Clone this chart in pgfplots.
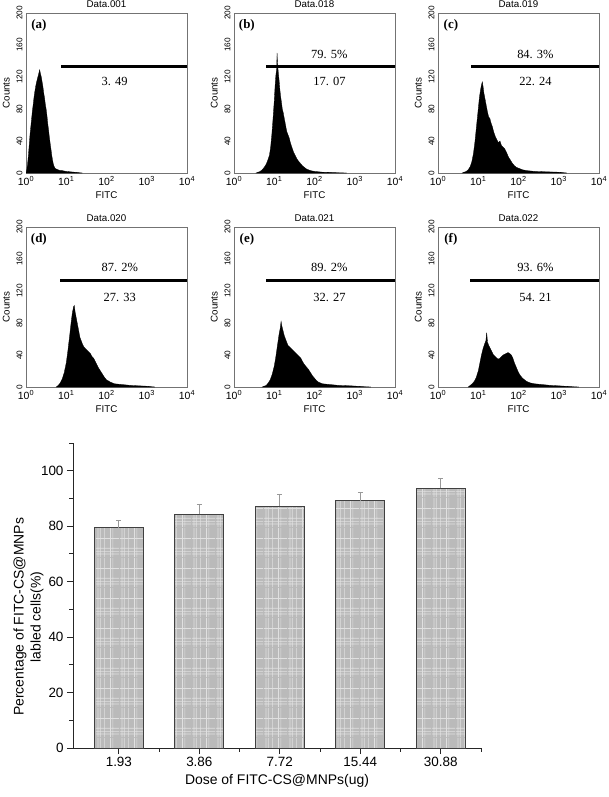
\documentclass[border=0pt]{standalone}
\usepackage{pgfplots}
\pgfplotsset{compat=1.18}
\usetikzlibrary{patterns}
\usepackage{fontspec}
\setmainfont{Liberation Sans}
\newfontfamily\tnr{Liberation Serif}

\pgfdeclarepatternformonly{plaid}{\pgfpoint{0bp}{0bp}}{\pgfpoint{24bp}{30bp}}{\pgfpoint{24bp}{30bp}}{
  \pgfsetlinewidth{0.7bp}
  \pgfpathmoveto{\pgfpoint{2bp}{0bp}}\pgfpathlineto{\pgfpoint{2bp}{30bp}}
  \pgfpathmoveto{\pgfpoint{4.5bp}{0bp}}\pgfpathlineto{\pgfpoint{4.5bp}{30bp}}
  \pgfpathmoveto{\pgfpoint{9bp}{0bp}}\pgfpathlineto{\pgfpoint{9bp}{30bp}}
  \pgfpathmoveto{\pgfpoint{15bp}{0bp}}\pgfpathlineto{\pgfpoint{15bp}{30bp}}
  \pgfpathmoveto{\pgfpoint{17.5bp}{0bp}}\pgfpathlineto{\pgfpoint{17.5bp}{30bp}}
  \pgfpathmoveto{\pgfpoint{0bp}{3bp}}\pgfpathlineto{\pgfpoint{24bp}{3bp}}
  \pgfpathmoveto{\pgfpoint{0bp}{5.5bp}}\pgfpathlineto{\pgfpoint{24bp}{5.5bp}}
  \pgfpathmoveto{\pgfpoint{0bp}{9bp}}\pgfpathlineto{\pgfpoint{24bp}{9bp}}
  \pgfpathmoveto{\pgfpoint{0bp}{19bp}}\pgfpathlineto{\pgfpoint{24bp}{19bp}}
  \pgfusepath{stroke}
}

\pgfplotsset{
  hist/.style={
    scale only axis, width=161bp, height=160bp,
    xmin=0, xmax=4, ymin=0, ymax=200,
    xtick={0,1,2,3,4},
    xticklabels={10\textsuperscript{0},10\textsuperscript{1},10\textsuperscript{2},10\textsuperscript{3},10\textsuperscript{4}},
    ytick={0,40,80,120,160,200},
    yticklabel style={rotate=90, anchor=south, font=\fontsize{8.3}{9}\selectfont},
    xticklabel style={font=\fontsize{10.5}{11}\selectfont},
    major tick length=0pt,
    axis line style={black!55, line width=0.6bp},
    title style={font=\fontsize{9.8}{11}\selectfont, at={(0.5,1)}, anchor=south, yshift=-4.5bp},
    xlabel={FITC}, ylabel={Counts},
    label style={font=\fontsize{9.8}{11}\selectfont},
    xlabel style={yshift=1bp},
    /pgf/number format/assume math mode=true,
  },
  histfill/.style={fill=black, draw=black, line width=0.3bp},
  gate/.style={line width=3.3bp, black},
}

\newcommand{\plab}[1]{\node[font=\tnr\bfseries\fontsize{13}{14}\selectfont] at (rel axis cs:0.08,0.925) {#1};}
\newcommand{\numtxt}[3]{\node[font=\tnr\fontsize{12.5}{14}\selectfont] at (axis cs:#1,#2) {#3};}

\begin{document}
\begin{tikzpicture}
\useasboundingbox (0,0) rectangle (609bp,-797bp);

% (a)
\begin{axis}[hist, at={(26bp,-13bp)}, anchor=north west, title={Data.001}]
\addplot[histfill] coordinates {
(0.00,0) (0.02,4) (0.04,12) (0.06,22) (0.08,35) (0.10,48) (0.12,58) (0.14,68) (0.16,78) (0.18,86)
(0.20,95) (0.22,102) (0.24,108) (0.26,113) (0.28,117) (0.30,121) (0.32,125) (0.34,129) (0.36,124)
(0.38,120) (0.40,114) (0.42,108) (0.44,100) (0.46,94) (0.48,86) (0.50,80) (0.52,72) (0.54,62)
(0.56,54) (0.58,45) (0.60,37) (0.62,30) (0.64,22) (0.66,16) (0.68,11) (0.70,8) (0.72,6) (0.75,5)
(0.80,4) (0.85,3) (0.90,3) (1.00,2) (1.10,1.5) (1.20,1) (1.30,0.5) (1.40,0)} \closedcycle;
\addplot[gate] coordinates {(0.88,133) (4,133)};
\plab{(a)}
\numtxt{2.2}{114}{3. 49}
\end{axis}

% (b)
\begin{axis}[hist, at={(234bp,-13bp)}, anchor=north west, title={Data.018}]
\addplot[histfill] coordinates {
(0.55,0) (0.60,1) (0.65,2) (0.70,4) (0.75,7) (0.80,11) (0.84,16) (0.88,22) (0.91,32) (0.94,48)
(0.97,68) (1.00,90) (1.02,108) (1.04,122) (1.06,130) (1.07,150) (1.08,138) (1.10,126) (1.12,116)
(1.14,104) (1.16,95) (1.18,88) (1.20,80) (1.22,76) (1.25,68) (1.28,60) (1.31,52) (1.34,48) (1.37,44)
(1.40,38) (1.44,32) (1.48,26) (1.52,22) (1.56,18) (1.60,15) (1.65,12) (1.70,9) (1.75,7) (1.80,5)
(1.90,3) (2.00,2) (2.20,1) (2.50,0.5) (2.80,0)} \closedcycle;
\addplot[gate] coordinates {(0.8,133) (4,133)};
\plab{(b)}
\numtxt{2.37}{148}{79. 5\%}
\numtxt{2.37}{114}{17. 07}
\end{axis}

% (c)
\begin{axis}[hist, at={(438bp,-13bp)}, anchor=north west, title={Data.019}]
\addplot[histfill] coordinates {
(0.60,0) (0.70,2) (0.75,4) (0.80,8) (0.84,14) (0.88,24) (0.92,40) (0.96,60) (1.00,80) (1.03,95)
(1.06,105) (1.08,110) (1.10,114) (1.12,108) (1.14,100) (1.17,92) (1.20,84) (1.23,76) (1.26,70)
(1.29,68) (1.32,62) (1.35,58) (1.38,52) (1.42,46) (1.46,42) (1.50,38) (1.54,40) (1.58,34) (1.62,32)
(1.66,30) (1.70,26) (1.75,20) (1.80,16) (1.85,12) (1.90,9) (1.95,7) (2.00,6) (2.10,4) (2.20,3)
(2.40,2) (2.70,1.5) (3.00,1) (3.20,0)} \closedcycle;
\addplot[gate] coordinates {(0.82,133) (4,133)};
\plab{(c)}
\numtxt{2.42}{148}{84. 3\%}
\numtxt{2.42}{114}{22. 24}
\end{axis}

% (d)
\begin{axis}[hist, at={(26bp,-227bp)}, anchor=north west, title={Data.020}]
\addplot[histfill] coordinates {
(0.75,0) (0.80,2) (0.85,5) (0.90,10) (0.95,18) (1.00,30) (1.04,45) (1.08,62) (1.12,80) (1.15,92)
(1.18,100) (1.20,102) (1.22,94) (1.25,86) (1.28,78) (1.31,70) (1.34,62) (1.37,58) (1.40,54)
(1.44,50) (1.48,48) (1.52,46) (1.56,44) (1.60,42) (1.64,38) (1.68,36) (1.72,32) (1.76,28) (1.80,24)
(1.85,20) (1.90,16) (1.95,12) (2.00,9) (2.10,6) (2.20,4) (2.40,3) (2.60,2) (2.80,1.5) (3.00,1) (3.20,0)} \closedcycle;
\addplot[gate] coordinates {(0.85,133) (4,133)};
\plab{(d)}
\numtxt{2.33}{150}{87. 2\%}
\numtxt{2.33}{112}{27. 33}
\end{axis}

% (e)
\begin{axis}[hist, at={(234bp,-227bp)}, anchor=north west, title={Data.021}]
\addplot[histfill] coordinates {
(0.70,0) (0.80,2) (0.85,5) (0.90,9) (0.95,16) (1.00,26) (1.04,38) (1.08,52) (1.12,66) (1.15,74)
(1.17,82) (1.19,76) (1.22,70) (1.25,64) (1.28,60) (1.31,56) (1.34,52) (1.38,50) (1.42,48) (1.46,46)
(1.50,44) (1.54,42) (1.58,40) (1.62,38) (1.66,36) (1.70,32) (1.75,28) (1.80,25) (1.85,22) (1.90,18)
(1.95,14) (2.00,11) (2.05,8) (2.10,6) (2.20,4) (2.40,3) (2.60,2) (2.90,1.5) (3.20,0.5) (3.40,0)} \closedcycle;
\addplot[gate] coordinates {(0.8,133) (4,133)};
\plab{(e)}
\numtxt{2.37}{150}{89. 2\%}
\numtxt{2.37}{112}{32. 27}
\end{axis}

% (f)
\begin{axis}[hist, at={(438bp,-227bp)}, anchor=north west, title={Data.022}]
\addplot[histfill] coordinates {
(0.75,0) (0.80,2) (0.85,4) (0.90,7) (0.95,12) (1.00,20) (1.04,30) (1.08,40) (1.12,48) (1.16,54)
(1.19,58) (1.21,68) (1.23,56) (1.26,52) (1.30,48) (1.34,44) (1.38,40) (1.42,38) (1.46,36) (1.50,35)
(1.54,36) (1.58,38) (1.62,40) (1.66,41) (1.70,42) (1.74,43) (1.78,42) (1.82,40) (1.86,36) (1.90,30)
(1.95,24) (2.00,18) (2.05,14) (2.10,11) (2.15,9) (2.20,7) (2.30,5) (2.40,4) (2.60,3) (2.80,2)
(3.00,1.5) (3.30,0.5) (3.50,0)} \closedcycle;
\addplot[gate] coordinates {(0.8,133) (4,133)};
\plab{(f)}
\numtxt{2.42}{150}{93. 6\%}
\numtxt{2.42}{112}{54. 21}
\end{axis}

% bar chart
\begin{axis}[
  at={(73bp,-748bp)}, anchor=south west,
  scale only axis, width=408bp, height=305bp,
  xmin=0.43, xmax=5.5, ymin=0, ymax=110,
  axis x line*=bottom, axis y line*=left,
  axis line style={black!85, line width=1bp},
  xtick={1,2,3,4,5}, xticklabels={1.93,3.86,7.72,15.44,30.88},
  minor xtick={1.5,2.5,3.5,4.5,5.5},
  ytick={0,20,40,60,80,100}, minor ytick={10,30,50,70,90,110},
  tick align=outside, major tick length=6bp, minor tick length=3.5bp,
  tick style={black!85, line width=0.9bp},
  ticklabel style={font=\fontsize{13.5}{15}\selectfont},
  /pgf/number format/assume math mode=true,
  xlabel={Dose of FITC-CS@MNPs(ug)},
  ylabel={Percentage of FITC-CS@MNPs\\labled cells(\%)},
  label style={font=\fontsize{14}{17}\selectfont, align=center},
  ylabel style={at={(axis description cs:-0.109,0.43)}, anchor=center},
]
\addplot[ybar, bar width=49bp, draw=black!75, line width=1bp,
  preaction={fill=black!27}, pattern=plaid, pattern color=white!88!black,
  error bars/.cd, y dir=plus, y explicit,
  error bar style={black!40, line width=0.8bp},
  error mark options={black!40, rotate=90, mark size=2.5bp, line width=0.8bp}]
coordinates {
(1,79.5) +- (0,2.5)
(2,84.3) +- (0,3.4)
(3,87.2) +- (0,4.1)
(4,89.2) +- (0,2.9)
(5,93.6) +- (0,3.7)
};
\end{axis}
\end{tikzpicture}
\end{document}
